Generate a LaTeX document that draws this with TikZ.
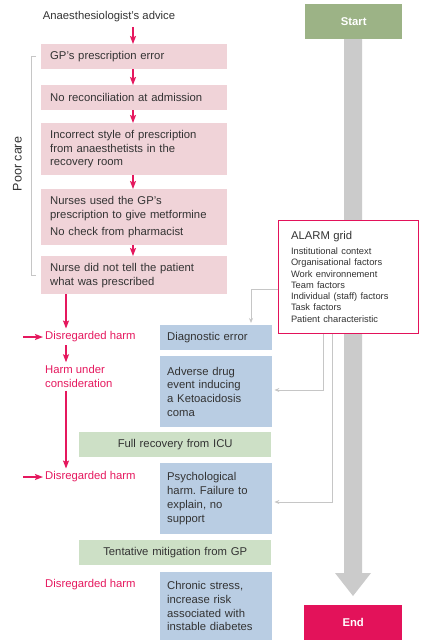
\documentclass[tikz,border=0pt]{standalone}
\usepackage{fontspec}
\setmainfont{Liberation Sans}
\usetikzlibrary{arrows.meta,calc}
\definecolor{pinkbg}{HTML}{F0D3D8}
\definecolor{bluebg}{HTML}{B9CDE3}
\definecolor{greenbg}{HTML}{CDE0C6}
\definecolor{startc}{HTML}{9CB386}
\definecolor{endc}{HTML}{E3125A}
\definecolor{redtxt}{HTML}{E5185E}
\definecolor{shaftc}{HTML}{CBCBCB}
\definecolor{linec}{HTML}{C6C6C6}
\definecolor{txt}{HTML}{333333}
\newcommand{\mainsz}{\fontsize{11.3}{13.8}\selectfont\frenchspacing}
\newcommand{\smallsz}{\fontsize{9.3}{11.3}\selectfont\frenchspacing}
\tikzset{
  basebox/.style={anchor=north west, draw=none, inner ysep=2pt, font=\mainsz, text=txt},
  pinkbox/.style={basebox, fill=pinkbg, text width=168pt, inner xsep=9pt, minimum width=186pt, align=left},
  bluebox/.style={basebox, fill=bluebg, text width=98pt, inner xsep=7pt, minimum width=112pt, align=left},
  greenbox/.style={basebox, fill=greenbg, text width=180pt, inner xsep=6pt, minimum width=192pt, align=center},
  termbox/.style={anchor=north west, draw=none, text=white, font=\mainsz\bfseries, minimum height=35pt},
  redlabel/.style={anchor=west, inner xsep=2pt, inner ysep=3pt, text=redtxt, font=\mainsz, align=left},
  parr/.style={draw=redtxt, line width=1.3pt, -{Stealth[length=8pt,width=6pt,inset=1.5pt]}},
  garr/.style={draw=linec, line width=0.9pt, -{Stealth[length=5pt,width=4pt]}, shorten >=2pt},
  alarmbox/.style={anchor=north west, draw=endc, line width=1pt, fill=white, text width=115pt, inner xsep=12.5pt, minimum width=140pt, minimum height=113pt, align=left, text=txt}
}
\begin{document}
\begin{tikzpicture}[x=1pt,y=-1pt]
\useasboundingbox (0,0) rectangle (422,642);

% gray timeline shaft
\fill[shaftc] (344,38) -- (362,38) -- (362,573) -- (371,573) -- (353,596) -- (335,573) -- (344,573) -- cycle;

% right column
\node[termbox, fill=startc, minimum width=97pt] (start) at (305,4) {Start};
\node[termbox, fill=endc, minimum width=98pt] (end) at (304,605) {End};

% left column
\node[font=\mainsz, text=txt, inner xsep=0pt, inner ysep=4.5pt] (adv) at (109,17) {Anaesthesiologist's advice};
\node[pinkbox, minimum height=25pt] (b1) at (41,44) {GP's prescription error};
\node[pinkbox, minimum height=25pt] (b2) at (41,85) {No reconciliation at admission};
\node[pinkbox, minimum height=52pt] (b3) at (41,123) {Incorrect style of prescription\\from anaesthetists in the\\recovery room};
\node[pinkbox, minimum height=56pt] (b4) at (41,189) {Nurses used the GP's\\prescription to give metformine\\[3pt]No check from pharmacist};
\node[pinkbox, minimum height=38pt] (b5) at (41,256) {Nurse did not tell the patient\\what was prescribed};

\coordinate (col) at (133,0);
\draw[parr] (adv.south -| col) -- (b1.north -| col);
\draw[parr] (b1.south -| col) -- (b2.north -| col);
\draw[parr] (b2.south -| col) -- (b3.north -| col);
\draw[parr] (b3.south -| col) -- (b4.north -| col);
\draw[parr] (b4.south -| col) -- (b5.north -| col);

% poor care bracket
\draw[linec, line width=0.9pt] ([xshift=-5pt]b1.west) -- ([xshift=-10pt]b1.west) -- ([xshift=-10pt]b5.west) -- ([xshift=-5pt]b5.west);
\node[rotate=90, font=\fontsize{12.5}{14}\selectfont, text=txt] (poor) at (17.5,164) {Poor care};

% red labels
\node[redlabel] (d1) at (43,337) {Disregarded harm};
\node[redlabel] (huc) at (43,376.5) {Harm under\\consideration};
\node[redlabel] (d2) at (43,477) {Disregarded harm};
\node[redlabel] (d3) at (43,585) {Disregarded harm};

\coordinate (c66) at (66,0);
\draw[parr] (b5.south -| c66) -- (d1.north -| c66);
\draw[parr] (d1.south -| c66) -- (huc.north -| c66);
\draw[parr] (huc.south -| c66) -- (d2.north -| c66);
\coordinate (l1) at (23,337);
\coordinate (l2) at (23,477);
\draw[parr] (l1) -- (d1.west);
\draw[parr] (l2) -- (d2.west);

% harm boxes
\node[bluebox, minimum height=25pt] (diag) at (160,325) {Diagnostic error};
\node[bluebox, minimum height=71pt] (ade) at (160,356) {Adverse drug\\event inducing\\a Ketoacidosis\\coma};
\node[greenbox, minimum height=25pt] (icu) at (79,432) {Full recovery from ICU};
\node[bluebox, minimum height=71pt] (psy) at (160,463) {Psychological\\harm. Failure to\\explain, no\\support};
\node[greenbox, minimum height=25pt] (gp) at (79,540) {Tentative mitigation from GP};
\node[bluebox, minimum height=68pt] (chr) at (160,572) {Chronic stress,\\increase risk\\associated with\\instable diabetes};

% ALARM grid
\node[alarmbox] (alarm) at (278,220) {{\mainsz ALARM grid\par}\vspace{4pt}\smallsz Institutional context\\Organisational factors\\Work environnement\\Team factors\\Individual (staff) factors\\Task factors\\Patient characteristic};

% gray connectors
\coordinate (g1) at (251,289);
\coordinate (g2) at (323,390);
\coordinate (g3) at (332,502);
\draw[garr] (alarm.west |- g1) -- (g1) -- (diag.north -| g1);
\draw[garr] (alarm.south -| g2) -- (g2) -- (ade.east |- g2);
\draw[garr] (alarm.south -| g3) -- (g3) -- (psy.east |- g3);
\end{tikzpicture}
\end{document}
